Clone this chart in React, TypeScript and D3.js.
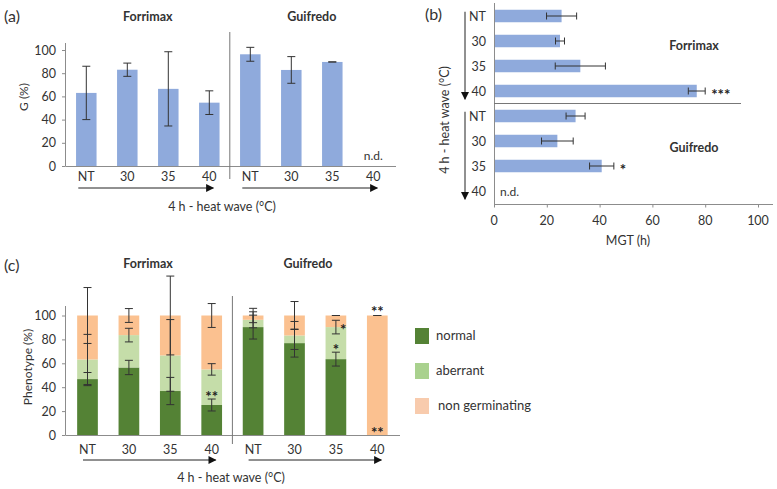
import * as d3 from "d3";

// shared categories
const temps = ["NT", "30", "35", "40"];
const cultivars = ["Forrimax", "Guifredo"];

// (a) germination (%), n.d. = null
const germMean: (number | null)[] = [63, 83, 66.5, 54.6, 96.3, 82.8, 89.7, null];
const germErr = [23, 5.7, 32, 10.2, 6, 11.5, 0, 0];

// (b) mean germination time (h)
const mgtMean: (number | null)[] = [25.6, 25, 32.7, 76.8, 30.9, 24, 40.8, null];
const mgtErr = [5.7, 1.7, 9.5, 3.2, 3.6, 6, 4.6, 0];
const mgtSig = ["", "", "", "***", "", "", "*", ""];

// (c) phenotype (%)
const normal = [46.8, 56.5, 36.8, 25.1, 90.3, 76.9, 63.5, 0];
const aberrant = [16.4, 27.1, 29.8, 29.8, 6.1, 6.4, 26.8, 0];
const normalErr = [5.5, 6, 11.4, 5, 10, 11.7, 5.8, 0];
const aberrantErr = [21, 5.7, 30, 4.8, 6.7, 11.7, 5.7, 0];
const nongermErr = [23.4, 5.8, 33, 10, 6, 11.7, 0, 0];
const normalSig = ["", "", "", "**", "", "", "*", "**"];
const aberrantSig = ["", "", "", "", "", "", "*", ""];
const nongermSig = ["", "", "", "", "", "", "", "**"];

const phenoSeries = ["normal", "aberrant", "nongerm"];
const phenoLabels = ["normal", "aberrant", "non germinating"];
const phenoColors = ["#548235", "#C5DDA9", "#FBC190"];
const legendColors = ["#548235", "#A9D18E", "#F8CBAD"];

const keys = cultivars.flatMap((c) => temps.map((t) => `${c}-${t}`));
const tempOf = (k: string) => k.split("-")[1];

const FONT = "Lato, 'Open Sans', sans-serif";
const TXT = "#333";
const STAR = "#222";
const AXIS = "#8c8c8c";
const BAR = "#8FAADC";

const ErrV = ({ x, y1, y2, w = 8 }: { x: number; y1: number; y2: number; w?: number }) => (
  <g stroke="#333" strokeWidth={1}>
    <line x1={x} x2={x} y1={y1} y2={y2} />
    <line x1={x - w / 2} x2={x + w / 2} y1={y1} y2={y1} />
    <line x1={x - w / 2} x2={x + w / 2} y1={y2} y2={y2} />
  </g>
);

const ErrH = ({ y, x1, x2, h = 7 }: { y: number; x1: number; x2: number; h?: number }) => (
  <g stroke="#333" strokeWidth={1}>
    <line x1={x1} x2={x2} y1={y} y2={y} />
    <line x1={x1} x2={x1} y1={y - h / 2} y2={y + h / 2} />
    <line x1={x2} x2={x2} y1={y - h / 2} y2={y + h / 2} />
  </g>
);

const PanelA = () => {
  const x = d3.scaleBand<string>().domain(keys).range([65.8, 393.8]).paddingInner(0.5).paddingOuter(0.25);
  const y = d3.scaleLinear().domain([0, 100]).range([166, 50]);
  const bw = x.bandwidth();
  const sepX = (x(keys[3])! + bw + x(keys[4])!) / 2;
  return (
    <g>
      <text x={4} y={22} fontSize={16} fill={TXT}>(a)</text>
      {cultivars.map((c, i) => (
        <text key={c} x={x(keys[i * 4])! + (x(keys[i * 4 + 3])! + bw - x(keys[i * 4])!) / 2} y={21}
          textAnchor="middle" fontWeight="bold" fontSize={12.5} fill={TXT}>{c}</text>
      ))}
      {keys.map((k, i) =>
        germMean[i] == null ? (
          <text key={k} x={x(k)! + bw / 2} y={y(0) - 6} textAnchor="middle" fontSize={12} fill={TXT}>n.d.</text>
        ) : (
          <g key={k}>
            <rect x={x(k)} width={bw} y={y(germMean[i]!)} height={y(0) - y(germMean[i]!)} fill={BAR} />
            <ErrV x={x(k)! + bw / 2} y1={y(germMean[i]! + germErr[i])} y2={y(germMean[i]! - germErr[i])} />
          </g>
        )
      )}
      <line x1={65.5} x2={65.5} y1={43} y2={y(0)} stroke={AXIS} />
      <line x1={65.5} x2={396} y1={y(0) + 0.5} y2={y(0) + 0.5} stroke={AXIS} />
      {y.ticks(5).map((t) => (
        <g key={t}>
          <line x1={62} x2={65.5} y1={y(t) + 0.5} y2={y(t) + 0.5} stroke={AXIS} />
          <text x={56} y={y(t) + 4.5} textAnchor="end" fontSize={12.5} fill={TXT}>{t}</text>
        </g>
      ))}
      {keys.map((k) => (
        <text key={k} x={x(k)! + bw / 2} y={181} textAnchor="middle" fontSize={12.5} fill={TXT}>{tempOf(k)}</text>
      ))}
      <line x1={sepX} x2={sepX} y1={32} y2={179} stroke="#777" />
      <text transform="translate(28,97) rotate(-90)" textAnchor="middle" fontSize={12} fill={TXT}>G  (%)</text>
      {cultivars.map((c, i) => (
        <line key={c} x1={x(keys[i * 4])! + bw / 2 - 8} x2={x(keys[i * 4 + 3])! + bw / 2 + 4} y1={188} y2={188}
          stroke="#222" markerEnd="url(#arrow)" />
      ))}
      <text x={222} y={211} textAnchor="middle" fontSize={12.5} fill={TXT}>4 h - heat wave (°C)</text>
    </g>
  );
};

const PanelB = () => {
  const x = d3.scaleLinear().domain([0, 100]).range([494, 758]);
  const y = d3.scaleBand<string>().domain(keys).range([3.5, 203.5]).paddingInner(0.5).paddingOuter(0.25);
  const bh = y.bandwidth();
  const sepY = (y(keys[3])! + bh + y(keys[4])!) / 2;
  return (
    <g>
      <text x={425} y={20} fontSize={16} fill={TXT}>(b)</text>
      {keys.map((k, i) => {
        const cy = y(k)! + bh / 2;
        return mgtMean[i] == null ? (
          <text key={k} x={500} y={cy + 4.5} fontSize={12} fill={TXT}>n.d.</text>
        ) : (
          <g key={k}>
            <rect x={x(0)} width={x(mgtMean[i]!) - x(0)} y={y(k)} height={bh} fill={BAR} />
            <ErrH y={cy} x1={x(mgtMean[i]! - mgtErr[i])} x2={x(mgtMean[i]! + mgtErr[i])} />
            {mgtSig[i] && (
              <text x={x(mgtMean[i]! + mgtErr[i]) + 6} y={cy + 9} fontSize={15} fontWeight="bold" fill={STAR}>{mgtSig[i]}</text>
            )}
          </g>
        );
      })}
      {keys.map((k) => (
        <text key={k} x={486} y={y(k)! + bh / 2 + 4.5} textAnchor="end" fontSize={12.5} fill={TXT}>{tempOf(k)}</text>
      ))}
      <line x1={494.5} x2={494.5} y1={3} y2={204} stroke={AXIS} />
      <line x1={494} x2={773} y1={204.5} y2={204.5} stroke={AXIS} />
      {x.ticks(5).map((t) => (
        <g key={t}>
          <line x1={x(t) + 0.5} x2={x(t) + 0.5} y1={204} y2={207.5} stroke={AXIS} />
          <text x={x(t)} y={225} textAnchor="middle" fontSize={12.5} fill={TXT}>{t}</text>
        </g>
      ))}
      <line x1={494} x2={741} y1={sepY} y2={sepY} stroke="#777" />
      <text x={628} y={245} textAnchor="middle" fontSize={12.5} fill={TXT}>MGT (h)</text>
      {cultivars.map((c, i) => (
        <g key={c}>
          <line x1={465} x2={465} y1={y(keys[i * 4])! + 2} y2={y(keys[i * 4 + 3])! + bh + 2}
            stroke="#222" markerEnd="url(#arrow)" />
          <text x={694} y={i === 0 ? 50 : 152} textAnchor="middle" fontWeight="bold" fontSize={12.5} fill={TXT}>{c}</text>
        </g>
      ))}
      <text transform="translate(449,120) rotate(-90)" textAnchor="middle" fontSize={12.5} fill={TXT}>4 h - heat wave (°C)</text>
    </g>
  );
};

const PanelC = () => {
  const x = d3.scaleBand<string>().domain(keys).range([66.8, 398]).paddingInner(0.5).paddingOuter(0.25);
  const y = d3.scaleLinear().domain([0, 100]).range([435, 315.5]);
  const bw = x.bandwidth();
  const sepX = (x(keys[3])! + bw + x(keys[4])!) / 2;
  const rows = keys.map((k, i) => ({
    key: k,
    normal: normal[i],
    aberrant: aberrant[i],
    nongerm: 100 - normal[i] - aberrant[i],
  }));
  const stacked = d3.stack<any>().keys(phenoSeries)(rows);
  const errs = [normalErr, aberrantErr, nongermErr];
  return (
    <g>
      <text x={4} y={271} fontSize={16} fill={TXT}>(c)</text>
      {cultivars.map((c, i) => (
        <text key={c} x={i === 0 ? 148 : 308} y={268} textAnchor="middle" fontWeight="bold" fontSize={12.5} fill={TXT}>{c}</text>
      ))}
      {stacked.map((s, si) => (
        <g key={s.key} fill={phenoColors[si]}>
          {s.map((d, i) =>
            d[1] - d[0] > 0 ? (
              <rect key={i} x={x(keys[i])} width={bw} y={y(d[1])} height={y(d[0]) - y(d[1])} />
            ) : null
          )}
        </g>
      ))}
      {stacked.map((s, si) => (
        <g key={s.key}>
          {s.map((d, i) =>
            si < 2 && normal[i] === 0 && aberrant[i] === 0 ? null : (
              <ErrV key={i} x={x(keys[i])! + bw / 2} y1={y(d[1] + errs[si][i])} y2={y(d[1] - errs[si][i])} />
            )
          )}
        </g>
      ))}
      {keys.map((k, i) => {
        const cx = x(k)! + bw / 2;
        return (
          <g key={k} fontSize={15} fontWeight="bold" fill={STAR}>
            {normalSig[i] && (
              <text x={cx} y={y(normal[i] + normalErr[i]) + 3} textAnchor="middle">{normalSig[i]}</text>
            )}
            {aberrantSig[i] && (
              <text x={cx + 4} y={y(normal[i] + aberrant[i]) + 8}>{aberrantSig[i]}</text>
            )}
            {nongermSig[i] && (
              <text x={cx} y={y(100 + nongermErr[i]) + 1} textAnchor="middle">{nongermSig[i]}</text>
            )}
          </g>
        );
      })}
      <line x1={65.5} x2={65.5} y1={306} y2={y(0)} stroke={AXIS} />
      <line x1={65.5} x2={400} y1={y(0) + 0.5} y2={y(0) + 0.5} stroke={AXIS} />
      {y.ticks(5).map((t) => (
        <g key={t}>
          <line x1={62} x2={65.5} y1={y(t) + 0.5} y2={y(t) + 0.5} stroke={AXIS} />
          <text x={56} y={y(t) + 4.5} textAnchor="end" fontSize={12.5} fill={TXT}>{t}</text>
        </g>
      ))}
      {keys.map((k) => (
        <text key={k} x={x(k)! + bw / 2} y={453.5} textAnchor="middle" fontSize={12.5} fill={TXT}>{tempOf(k)}</text>
      ))}
      <line x1={sepX} x2={sepX} y1={296} y2={444} stroke="#777" />
      <text transform="translate(32,367) rotate(-90)" textAnchor="middle" fontSize={12} fill={TXT}>Phenotype (%)</text>
      {cultivars.map((c, i) => (
        <line key={c} x1={x(keys[i * 4])! + bw / 2 - 4.5} x2={x(keys[i * 4 + 3])! + bw / 2 + 4} y1={460} y2={460}
          stroke="#222" markerEnd="url(#arrow)" />
      ))}
      <text x={231} y={482} textAnchor="middle" fontSize={12.5} fill={TXT}>4 h - heat wave (°C)</text>
      {phenoLabels.map((l, i) => (
        <g key={l} transform={`translate(415,${328 + i * 35})`}>
          <rect width={14} height={16} fill={legendColors[i]} />
          <text x={i === 2 ? 23 : 21} y={12} fontSize={13} fill={TXT}>{l}</text>
        </g>
      ))}
    </g>
  );
};

export default function App() {
  return (
    <svg width={777} height={489} style={{ position: "absolute", left: 0, top: 0, background: "#fff" }}
      fontFamily={FONT}>
      <defs>
        <marker id="arrow" viewBox="0 0 10 10" refX={9} refY={5} markerWidth={9} markerHeight={8}
          markerUnits="userSpaceOnUse" orient="auto">
          <path d="M0,0 L10,5 L0,10 Z" fill="#111" />
        </marker>
      </defs>
      <PanelA />
      <PanelB />
      <PanelC />
    </svg>
  );
}
